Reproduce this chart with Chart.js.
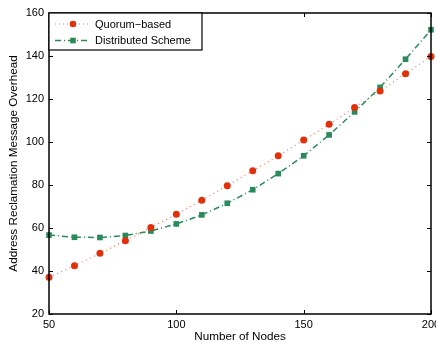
<!DOCTYPE html>
<html><head><meta charset="utf-8">
<script src="https://cdn.jsdelivr.net/npm/chart.js@4.4.0/dist/chart.umd.min.js"></script>
<style>
html,body{margin:0;padding:0;background:#fff;overflow:hidden;}
#wrap{width:436px;height:345px;overflow:hidden;position:relative;}
canvas{display:block;}
</style></head><body>
<div id="wrap"><canvas id="c" width="460" height="345"></canvas></div>
<script>
const nodes = [50,60,70,80,90,100,110,120,130,140,150,160,170,180,190,200];
const quorum = [37.1,42.5,48.2,54.1,60.2,66.4,72.9,79.7,86.6,93.6,100.9,108.2,116.0,123.7,131.8,139.8];
const distributed = [56.7,55.7,55.6,56.5,58.6,61.9,66.1,71.5,77.8,85.3,93.6,103.3,114.0,125.4,138.5,152.2];
const xTicks = [50,100,150,200];
const yTicks = [20,40,60,80,100,120,140,160];
const seriesNames = ['Quorum\u2212based','Distributed Scheme'];
const xTitle = 'Number of Nodes';
const yTitle = 'Address Reclamation Message Overhead';

const FONT = '"Liberation Sans", Arial, Helvetica, sans-serif';
const RED = '#e2300c', RED_LINE = '#f07a68', GREEN = '#2a8a5c';

const framePlugin = {
  id: 'frame',
  afterDraw(chart) {
    const {ctx, chartArea: a, scales} = chart;
    ctx.save();
    ctx.strokeStyle = '#000';
    ctx.lineWidth = 1.5;
    ctx.strokeRect(a.left, a.top, a.right - a.left, a.bottom - a.top);
    ctx.lineWidth = 1;
    const L = 4;
    ctx.beginPath();
    xTicks.forEach(v => {
      const x = Math.round(scales.x.getPixelForValue(v)) + 0.5;
      ctx.moveTo(x, a.bottom); ctx.lineTo(x, a.bottom - L);
      ctx.moveTo(x, a.top); ctx.lineTo(x, a.top + L);
    });
    yTicks.forEach(v => {
      const y = Math.round(scales.y.getPixelForValue(v)) + 0.5;
      ctx.moveTo(a.left, y); ctx.lineTo(a.left + L, y);
      ctx.moveTo(a.right, y); ctx.lineTo(a.right - L, y);
    });
    ctx.stroke();
    // legend
    const lx = a.left, ly = a.top, lw = 153, lh = 37;
    ctx.fillStyle = '#fff';
    ctx.fillRect(lx, ly, lw, lh);
    ctx.lineWidth = 1.2;
    ctx.strokeStyle = '#000';
    ctx.strokeRect(lx, ly, lw, lh);
    const rows = [ly + 11, ly + 27.5];
    ctx.lineWidth = 1.2;
    ctx.strokeStyle = RED_LINE;
    ctx.setLineDash([1,3]);
    ctx.beginPath(); ctx.moveTo(lx + 6, rows[0]); ctx.lineTo(lx + 40, rows[0]); ctx.stroke();
    ctx.setLineDash([]);
    ctx.fillStyle = RED;
    ctx.beginPath(); ctx.arc(lx + 24, rows[0], 3.3, 0, Math.PI * 2); ctx.fill();
    ctx.strokeStyle = GREEN;
    ctx.lineWidth = 1.5;
    ctx.setLineDash([6,3,1,3]);
    ctx.beginPath(); ctx.moveTo(lx + 6, rows[1]); ctx.lineTo(lx + 40, rows[1]); ctx.stroke();
    ctx.setLineDash([]);
    ctx.fillStyle = GREEN;
    ctx.fillRect(lx + 24 - 2.8, rows[1] - 2.8, 5.6, 5.6);
    ctx.fillStyle = '#000';
    ctx.font = '11px ' + FONT;
    ctx.textBaseline = 'middle';
    ctx.textAlign = 'left';
    ctx.fillText(seriesNames[0], lx + 46, rows[0] + 0.5);
    ctx.fillText(seriesNames[1], lx + 46, rows[1] + 0.5);
    ctx.restore();
  }
};

new Chart(document.getElementById('c'), {
  type: 'line',
  data: {
    datasets: [
      {
        label: seriesNames[0],
        data: nodes.map((n, i) => ({x: n, y: quorum[i]})),
        borderColor: RED_LINE, borderWidth: 1.2, borderDash: [1,3.5],
        pointBackgroundColor: RED, pointBorderColor: RED, pointRadius: 3.5, pointBorderWidth: 0,
        pointStyle: 'circle', tension: 0, clip: false
      },
      {
        label: seriesNames[1],
        data: nodes.map((n, i) => ({x: n, y: distributed[i]})),
        borderColor: GREEN, borderWidth: 1.5, borderDash: [6,3,1,3],
        pointBackgroundColor: GREEN, pointBorderColor: GREEN, pointRadius: 4, pointBorderWidth: 0,
        pointStyle: 'rect', tension: 0, clip: false
      }
    ]
  },
  options: {
    responsive: false, animation: false, devicePixelRatio: 1,
    layout: {padding: {left: 0, right: 29, top: 13, bottom: 0}},
    plugins: {legend: {display: false}, tooltip: {enabled: false}},
    scales: {
      x: {
        type: 'linear', min: 50, max: 200,
        grid: {display: false, drawTicks: false}, border: {display: false},
        afterBuildTicks: s => { s.ticks = xTicks.map(v => ({value: v})); },
        ticks: {color: '#000', font: {family: FONT, size: 11}, padding: 4, maxRotation: 0, autoSkip: false},
        title: {display: true, text: xTitle, color: '#000', font: {family: FONT, size: 11.7}, padding: {top: 0, bottom: 1}},
        afterFit: s => { s.height = 31; s.paddingLeft = 0; s.paddingRight = 0; }
      },
      y: {
        type: 'linear', min: 20, max: 160,
        grid: {display: false, drawTicks: false}, border: {display: false},
        afterBuildTicks: s => { s.ticks = yTicks.map(v => ({value: v})); },
        ticks: {color: '#000', font: {family: FONT, size: 11}, padding: 5, autoSkip: false},
        title: {display: true, text: yTitle, color: '#000', font: {family: FONT, size: 11.7}, padding: {top: 6.5, bottom: 0}},
        afterFit: s => { s.width = 49; s.paddingTop = 0; s.paddingBottom = 0; }
      }
    }
  },
  plugins: [framePlugin]
});
</script>
</body></html>
